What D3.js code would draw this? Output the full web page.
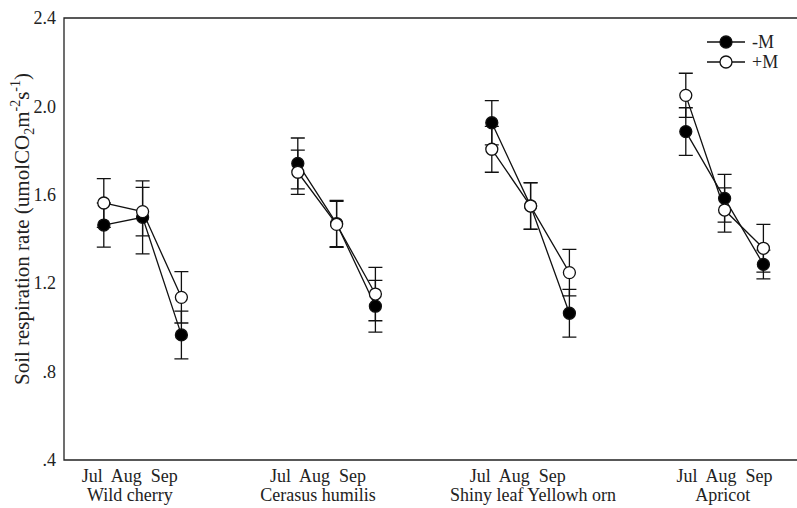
<!DOCTYPE html>
<html>
<head>
<meta charset="utf-8">
<script src="https://cdn.jsdelivr.net/npm/d3@7"></script>
<style>
  body { margin: 0; background: #fff; }
  svg { display: block; font-family: "Liberation Serif", "Times New Roman", serif; }
</style>
</head>
<body>
<div id="chart"></div>
<script>
// Species groups and months
const species = ['Wild cherry', 'Cerasus humilis', 'Shiny leaf Yellowh orn', 'Apricot'];
const months = ['Jul', 'Aug', 'Sep'];
// x positions (axis units) of each month point, per species
const xPos = [[1, 2, 3], [6, 7, 8], [11, 12, 13], [16, 17, 18]];
// where the hand-placed labels sit, in axis units
const monthLabelPos = [1.67, 6.52, 11.67, 17.0];
const nameLabelPos = [1.67, 6.52, 12.06, 16.95];

// -M (filled) means and errors
const minusM = [[1.463, 1.498, 0.966], [1.742, 1.47, 1.096], [1.926, 1.55, 1.064], [1.886, 1.584, 1.285]];
const minusErr = [[0.10, 0.165, 0.108], [0.115, 0.105, 0.117], [0.10, 0.105, 0.108], [0.108, 0.108, 0.065]];
// +M (open) means and errors
const plusM = [[1.563, 1.524, 1.136], [1.702, 1.466, 1.151], [1.806, 1.549, 1.248], [2.05, 1.531, 1.358]];
const plusErr = [[0.11, 0.11, 0.116], [0.10, 0.104, 0.121], [0.104, 0.105, 0.105], [0.10, 0.10, 0.108]];

const yTicks = [0.4, 0.8, 1.2, 1.6, 2.0, 2.4];

const width = 797, height = 508;
const svg = d3.select('#chart').append('svg')
    .attr('width', width)
    .attr('height', height);

const x = d3.scaleLinear().domain([0, 19]).range([65, 65 + 19 * 38.8]);
const y = d3.scaleLinear().domain([0.4, 2.4]).range([460, 18]);

// frame (right side runs off the picture)
svg.append('path')
    .attr('d', `M${x(19)},18 H64 V460 H${x(19)}`)
    .attr('fill', 'none')
    .attr('stroke', '#222')
    .attr('stroke-width', 1.3);

// y axis labels
const fmt = d => d < 1 ? d3.format('.1f')(d).replace(/^0/, '') : d3.format('.1f')(d);
const yAxis = svg.append('g')
    .attr('transform', 'translate(64,0)')
    .call(d3.axisLeft(y).tickValues(yTicks).tickSize(0).tickPadding(8).tickFormat(fmt));
yAxis.select('.domain').remove();
yAxis.selectAll('text')
    .attr('font-family', '"Liberation Serif", serif')
    .attr('font-size', 18)
    .attr('fill', '#222');

// y title
const title = svg.append('text')
    .attr('transform', 'translate(29,229) rotate(-90)')
    .attr('text-anchor', 'middle')
    .attr('font-size', 21)
    .attr('fill', '#222');
title.append('tspan').text('Soil respiration rate (umolCO');
title.append('tspan').attr('font-size', 14).attr('dy', 5).text('2');
title.append('tspan').attr('dy', -5).text('m');
title.append('tspan').attr('font-size', 14).attr('dy', -9).text('-2');
title.append('tspan').attr('dy', 9).text('s');
title.append('tspan').attr('font-size', 14).attr('dy', -9).text('-1');
title.append('tspan').attr('dy', 9).text(')');

// x labels
svg.append('g').selectAll('text')
    .data(monthLabelPos)
    .join('text')
    .attr('x', d => x(d))
    .attr('y', 482)
    .attr('text-anchor', 'middle')
    .attr('font-size', 18)
    .attr('fill', '#222')
    .style('white-space', 'pre')
    .text(months.join('  '));

svg.append('g').selectAll('text')
    .data(nameLabelPos)
    .join('text')
    .attr('x', d => x(d))
    .attr('y', 501)
    .attr('text-anchor', 'middle')
    .attr('font-size', 18)
    .attr('fill', '#222')
    .text((d, i) => species[i]);

function buildSeries(means, errs) {
    return means.map((g, i) => g.map((v, j) => ({ x: xPos[i][j], v: v, e: errs[i][j] })));
}
const seriesList = [
    { name: '-M', fill: '#000', groups: buildSeries(minusM, minusErr) },
    { name: '+M', fill: '#fff', groups: buildSeries(plusM, plusErr) }
];

const line = d3.line().x(d => x(d.x)).y(d => y(d.v));
const capW = 7;

seriesList.forEach(s => {
    const g = svg.append('g');
    // error bars
    s.groups.flat().forEach(d => {
        const cx = x(d.x);
        const top = y(d.v + d.e), bot = y(d.v - d.e);
        g.append('path')
            .attr('d', `M${cx},${top} V${bot} M${cx - capW},${top} H${cx + capW} M${cx - capW},${bot} H${cx + capW}`)
            .attr('fill', 'none')
            .attr('stroke', '#111')
            .attr('stroke-width', 1.3);
    });
    // connecting lines
    g.selectAll('.ln')
        .data(s.groups)
        .join('path')
        .attr('class', 'ln')
        .attr('d', line)
        .attr('fill', 'none')
        .attr('stroke', '#111')
        .attr('stroke-width', 1.3);
});

// markers on top
seriesList.forEach(s => {
    svg.append('g').selectAll('circle')
        .data(s.groups.flat())
        .join('circle')
        .attr('cx', d => x(d.x))
        .attr('cy', d => y(d.v))
        .attr('r', 6)
        .attr('fill', s.fill)
        .attr('stroke', '#111')
        .attr('stroke-width', 1.3);
});

// legend
const legend = svg.append('g');
seriesList.forEach((s, i) => {
    const ly = 42 + i * 20;
    legend.append('line')
        .attr('x1', 707).attr('x2', 745)
        .attr('y1', ly).attr('y2', ly)
        .attr('stroke', '#111').attr('stroke-width', 1.3);
    legend.append('circle')
        .attr('cx', 726).attr('cy', ly).attr('r', 6)
        .attr('fill', s.fill).attr('stroke', '#111').attr('stroke-width', 1.3);
    legend.append('text')
        .attr('x', 752).attr('y', ly + 6)
        .attr('font-size', 18)
        .attr('fill', '#222')
        .text(s.name);
});
</script>
</body>
</html>
